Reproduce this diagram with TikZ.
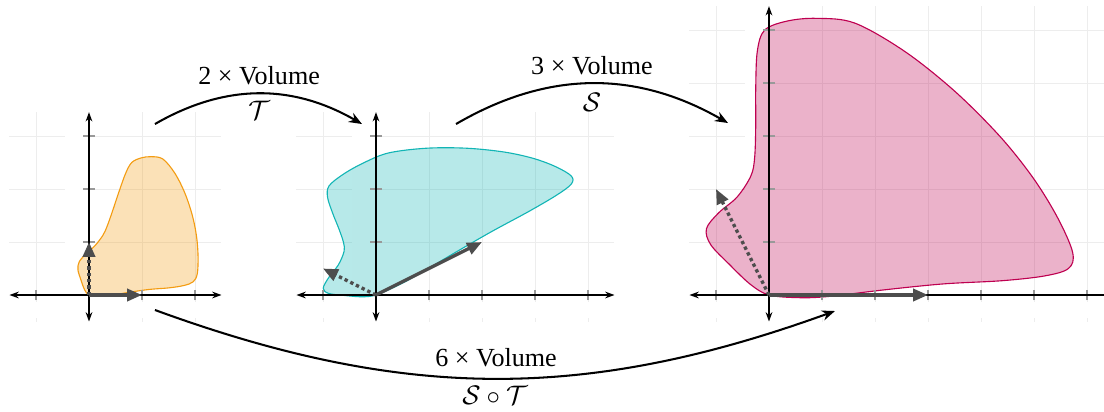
\documentclass[tikz,border=0pt]{standalone}
\usepackage{fontspec}
\setmainfont{Liberation Serif}
\usetikzlibrary{arrows.meta}
\definecolor{orangeS}{HTML}{F39C12}
\definecolor{cyanS}{HTML}{12B5B5}
\definecolor{pinkS}{HTML}{BE0050}
\definecolor{vecgray}{HTML}{4D4D4D}
\definecolor{gridgray}{HTML}{EDEDED}
\definecolor{tickgray}{HTML}{999999}
% the blob, given as it appears in the third plot
\def\blob{plot[smooth cycle, tension=0.55] coordinates {(0,0) (0.55,-0.05) (1.1,-0.03) (2.2,0.1) (3.3,0.21) (4.4,0.27) (5.2,0.36) (5.65,0.5) (5.73,0.8) (5.45,1.45) (4.99,2.2) (4.36,2.99) (3.51,3.84) (2.57,4.59) (1.62,5.13) (0.9,5.22) (0.35,5.17) (-0.08,5.0) (-0.22,4.6) (-0.25,3.9) (-0.25,3.2) (-0.27,2.6) (-0.34,2.25) (-0.6,1.85) (-0.95,1.55) (-1.18,1.25) (-1.1,0.95) (-0.75,0.58) (-0.35,0.2)}}
\newcommand\plotgrid[4]{%
  \foreach \x in {#3} \draw[gridline] (\x,-0.5) -- (\x,#2);
  \foreach \y in {#4} \draw[gridline] (-1.5,\y) -- (#1,\y);
  \fill[white] (-1.5,-0.44) rectangle (#1,-0.13);
  \fill[white] (-0.45,-0.5) rectangle (-0.1,#2);
}
\newcommand\plotaxes[4]{%
  \foreach \x in {#3} \draw[tickmark] (\x,-0.1) -- (\x,0.1);
  \foreach \y in {#4} \draw[tickmark] (-0.11,\y) -- (0.11,\y);
  \draw[axisline] (-1.5,0) -- (#1,0);
  \draw[axisline] (0,-0.5) -- (0,#2);
}
\begin{document}
\begin{tikzpicture}[x=1cm,y=1cm,
  gridline/.style={draw=gridgray, line width=0.45pt},
  tickmark/.style={draw=tickgray, line width=0.8pt},
  axisline/.style={line width=0.6pt, {Stealth[length=5pt,width=3.6pt]}-{Stealth[length=5pt,width=3.6pt]}},
  vecsolid/.style={draw=vecgray, line width=1.8pt, -{Triangle[length=8pt,width=6.5pt]}},
  vecdot/.style={vecsolid, dash pattern=on 1.8pt off 1.6pt},
  conn/.style={line width=1.1pt, -{Stealth[length=7pt,width=5.5pt]}},
  lbl/.style={inner sep=0pt, font=\fontsize{14}{16}\selectfont},
  blobA/.style={draw=orangeS, fill=orangeS, fill opacity=0.3, line width=0.6pt},
  blobB/.style={draw=cyanS, fill=cyanS, fill opacity=0.3, line width=0.6pt},
  blobC/.style={draw=pinkS, fill=pinkS, fill opacity=0.3, line width=0.6pt}]
\useasboundingbox (-1.679,-2.189) rectangle (19.151,5.566);
\clip (-1.679,-2.189) rectangle (19.151,5.566);
% plot 1
\begin{scope}
  \plotgrid{2.5}{3.45}{-1,1,2}{1,2,3}
  \draw[blobA, cm={0.33333,0,0.16667,0.5,(0,0)}] \blob;
  \plotaxes{2.5}{3.45}{-1,1,2}{1,2,3}
  \draw[vecsolid] (0,0) -- (1,0);
  \draw[vecdot] (0,0) -- (0,1);
\end{scope}
% plot 2
\begin{scope}[shift={(5.415,0)}]
  \plotgrid{4.5}{3.45}{-1,1,2,3,4}{1,2,3}
  \draw[blobB, cm={0.66667,0.33333,-0.16667,0.41667,(0,0)}] \blob;
  \plotaxes{4.5}{3.45}{-1,1,2,3,4}{1,2,3}
  \draw[vecsolid] (0,0) -- (2,1);
  \draw[vecdot] (0,0) -- (-1,0.5);
\end{scope}
% plot 3
\begin{scope}[shift={(12.83,0)}]
  \plotgrid{6.5}{5.45}{-1,1,2,3,4,5,6}{1,2,3,4,5}
  \draw[blobC] \blob;
  \plotaxes{6.5}{5.45}{-1,1,2,3,4,5,6}{1,2,3,4,5}
  \draw[vecsolid] (0,0) -- (3,0);
  \draw[vecdot] (0,0) -- (-1,2);
\end{scope}
% connectors
\coordinate (a1s) at (1.245,3.226);
\coordinate (a1e) at (5.151,3.226);
\coordinate (a2s) at (6.925,3.226);
\coordinate (a2e) at (12.057,3.245);
\coordinate (a3s) at (1.245,-0.283);
\coordinate (a3e) at (14.075,-0.302);
\draw[conn] (a1s) to[bend left=30] (a1e);
\draw[conn] (a2s) to[bend left=30] (a2e);
\draw[conn] (a3s) to[bend right=20] (a3e);
\node[lbl] (l1a) at (3.21,4.13) {2 × Volume};
\node[lbl] (l1b) at (3.21,3.49) {$\mathcal{T}$};
\node[lbl] (l2a) at (9.49,4.32) {3 × Volume};
\node[lbl] (l2b) at (9.49,3.64) {$\mathcal{S}$};
\node[lbl] (l3a) at (7.68,-1.19) {6 × Volume};
\node[lbl] (l3b) at (7.66,-1.89) {$\mathcal{S}\circ\mathcal{T}$};
\end{tikzpicture}
\end{document}
